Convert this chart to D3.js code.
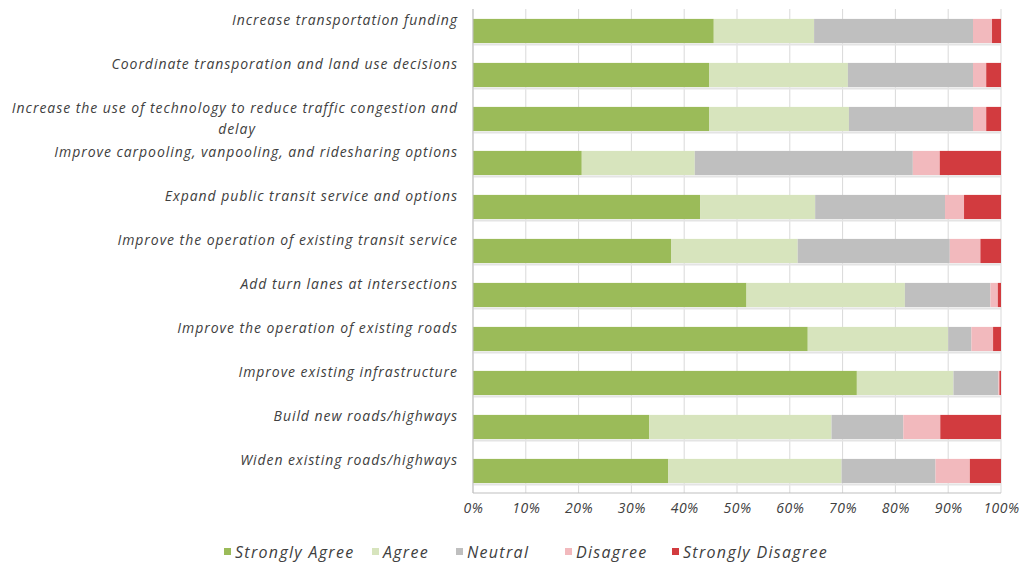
<!DOCTYPE html>
<html>
<head>
<meta charset="utf-8">
<script src="https://cdn.jsdelivr.net/npm/d3@7/dist/d3.min.js"></script>
<style>
  html, body { margin: 0; padding: 0; background: #fff; }
  svg { display: block; }
  text { font-family: "Open Sans", "DejaVu Sans", sans-serif; font-style: italic; fill: #404040; }
</style>
</head>
<body>
<svg id="chart" width="1023" height="566"></svg>
<script>
// Survey items, top to bottom
const categories = [
  "Increase transportation funding",
  "Coordinate transporation and land use decisions",
  "Increase the use of technology to reduce traffic congestion and delay",
  "Improve carpooling, vanpooling, and ridesharing options",
  "Expand public transit service and options",
  "Improve the operation of existing transit service",
  "Add turn lanes at intersections",
  "Improve the operation of existing roads",
  "Improve existing infrastructure",
  "Build new roads/highways",
  "Widen existing roads/highways"
];

// Share of responses (%) per answer
const stronglyAgree    = [45.6, 44.7, 44.7, 20.6, 43.0, 37.5, 51.8, 63.4, 72.7, 33.4, 37.0];
const agree            = [19.0, 26.3, 26.5, 21.4, 21.8, 24.0, 30.0, 26.6, 18.3, 34.5, 32.8];
const neutral          = [30.1, 23.7, 23.5, 41.3, 24.6, 28.8, 16.2,  4.4,  8.5, 13.6, 17.8];
const disagree         = [ 3.6,  2.5,  2.5,  5.1,  3.6,  5.8,  1.4,  4.1,  0.2,  7.0,  6.5];
const stronglyDisagree = [ 1.7,  2.8,  2.8, 11.6,  7.0,  3.9,  0.6,  1.5,  0.3, 11.5,  5.9];

const seriesNames = ["Strongly Agree", "Agree", "Neutral", "Disagree", "Strongly Disagree"];
const seriesColors = ["#9bbb59", "#d7e4bd", "#bfbfbf", "#f2b9bd", "#d23b3f"];
const tickValues = [0, 10, 20, 30, 40, 50, 60, 70, 80, 90, 100];

const seriesValues = [stronglyAgree, agree, neutral, disagree, stronglyDisagree];
const rows = categories.map((c, i) => {
  const r = { category: c };
  seriesNames.forEach((s, k) => { r[s] = seriesValues[k][i]; });
  return r;
});

const svg = d3.select("#chart");
const margin = { left: 473, right: 22, top: 9, bottom: 73 };
const W = 1023, H = 566;

const x = d3.scaleLinear().domain([0, 100]).range([margin.left, W - margin.right]);
const y = d3.scaleBand().domain(categories).range([margin.top, H - margin.bottom]).paddingInner(0.45).paddingOuter(0.225);
const color = d3.scaleOrdinal().domain(seriesNames).range(seriesColors);

// vertical gridlines
svg.append("g")
  .selectAll("line")
  .data(tickValues)
  .join("line")
  .attr("x1", d => x(d)).attr("x2", d => x(d))
  .attr("y1", margin.top).attr("y2", H - margin.bottom)
  .attr("stroke", "#d9d9d9").attr("stroke-width", 1);

// stacked bars
const stack = d3.stack().keys(seriesNames);
const layers = stack(rows);

svg.append("g")
  .selectAll("g")
  .data(layers)
  .join("g")
  .attr("fill", d => color(d.key))
  .selectAll("rect")
  .data(d => d)
  .join("rect")
  .attr("x", d => x(d[0]))
  .attr("y", d => y(d.data.category))
  .attr("width", d => Math.max(0, x(d[1]) - x(d[0])))
  .attr("height", y.bandwidth());

// faint shadow line under each bar
svg.append("g")
  .selectAll("line")
  .data(categories)
  .join("line")
  .attr("x1", x(0)).attr("x2", x(100))
  .attr("y1", d => y(d) + y.bandwidth() + 1.5)
  .attr("y2", d => y(d) + y.bandwidth() + 1.5)
  .attr("stroke", "#e4e4e4").attr("stroke-width", 2);

// axes lines
svg.append("line")
  .attr("x1", x(0)).attr("x2", x(0))
  .attr("y1", margin.top).attr("y2", H - margin.bottom)
  .attr("stroke", "#bfbfbf");
svg.append("line")
  .attr("x1", x(0)).attr("x2", x(100))
  .attr("y1", H - margin.bottom).attr("y2", H - margin.bottom)
  .attr("stroke", "#bfbfbf");

// x tick labels
const xAxis = d3.axisBottom(x).tickValues(tickValues).tickFormat(d => d + "%").tickSize(0).tickPadding(0);
const gx = svg.append("g").attr("transform", `translate(0, ${H - margin.bottom + 16})`).call(xAxis);
gx.select(".domain").remove();
gx.selectAll("text")
  .attr("font-size", 14).attr("letter-spacing", "0.5px")
  .attr("font-family", null).attr("fill", "#404040").attr("dy", "0.32em");

// category labels (wrapped at a fixed width)
const labelX = 458;
const maxWidth = 450;
const labelG = svg.append("g").attr("font-size", 14).attr("letter-spacing", "0.95px").attr("text-anchor", "end");
categories.forEach(c => {
  const t = labelG.append("text").attr("x", labelX).attr("y", y(c) + y.bandwidth() / 2 - 11).attr("dy", "0.35em");
  const words = c.split(" ");
  let line = [], lines = [];
  const probe = labelG.append("text").attr("visibility", "hidden");
  words.forEach(w => {
    const test = line.concat(w).join(" ");
    probe.text(test);
    if (probe.node().getComputedTextLength() > maxWidth && line.length) {
      lines.push(line.join(" "));
      line = [w];
    } else line.push(w);
  });
  lines.push(line.join(" "));
  probe.remove();
  lines.forEach((l, i) => {
    if (i === 0) t.append("tspan").attr("x", labelX).text(l);
    else t.append("tspan").attr("x", 237).attr("text-anchor", "middle").attr("dy", "1.5em").text(l);
  });
});

// legend
const legendX = [224, 372, 456, 565, 672];
const legend = svg.append("g").attr("font-size", 16).attr("letter-spacing", "1.3px");
seriesNames.forEach((s, i) => {
  const g = legend.append("g").attr("transform", `translate(${legendX[i]}, 552)`);
  g.append("rect").attr("x", 0).attr("y", -4).attr("width", 7).attr("height", 7).attr("fill", color(s));
  g.append("text").attr("x", 11).attr("y", 0).attr("dy", "0.35em").text(s);
});
</script>
</body>
</html>
